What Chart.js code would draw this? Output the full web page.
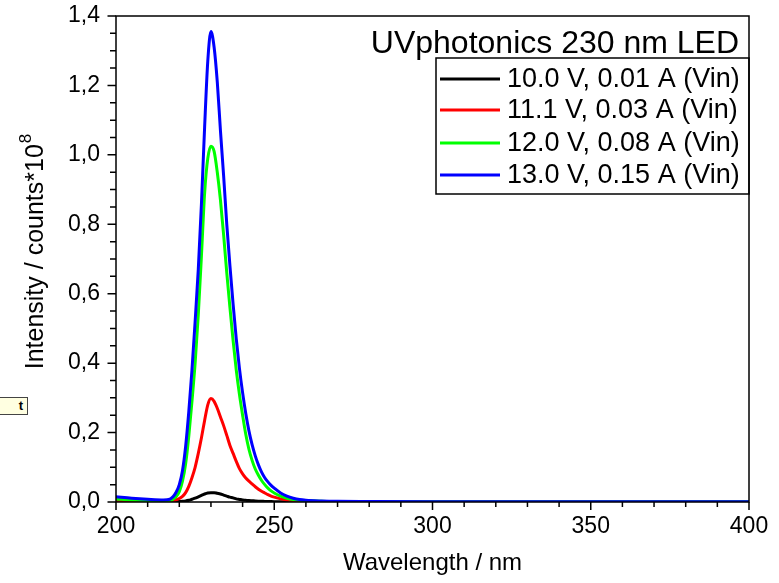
<!DOCTYPE html>
<html>
<head>
<meta charset="utf-8">
<script src="https://cdn.jsdelivr.net/npm/chart.js@4.4.0/dist/chart.umd.min.js"></script>
<style>
  html, body { margin: 0; padding: 0; background: #fff; }
  #wrap { position: relative; width: 779px; height: 583px; overflow: hidden; }
  #note { position: absolute; left: -6px; top: 397px; width: 34px; height: 18px; background: #ffffe1; border: 1px solid #444; font: bold 13px "Liberation Sans", Arial, sans-serif; line-height: 16px; text-align: right; padding-right: 4px; box-sizing: border-box; }
</style>
</head>
<body>
<div id="wrap">
<canvas id="myChart" width="779" height="583"></canvas>
<div id="note">t</div>
</div>
<script>
// wavelength in nm
const wavelengths = [200, 205, 210, 215, 217,
  218, 219, 220, 221, 222, 223, 224, 225, 226, 227, 228, 229, 230, 231, 232, 233, 234,
  235, 236, 237, 238, 239, 240, 241, 242, 243, 244, 245, 246, 247, 248, 249, 250,
  252, 254, 256, 258, 260, 265, 270, 280, 300, 350, 400];

// intensity in counts*10^8
const v10 = [0.001, 0.0008, 0.0005, 0.0005, 0.0006,
  0.0008, 0.001, 0.0015, 0.002, 0.003, 0.005, 0.008, 0.011, 0.015, 0.019, 0.023, 0.026, 0.027, 0.027, 0.025, 0.023, 0.02,
  0.017, 0.014, 0.012, 0.009, 0.0075, 0.006, 0.005, 0.004, 0.0035, 0.003, 0.0025, 0.002, 0.0018, 0.0015, 0.0012, 0.001,
  0.0008, 0.0006, 0.0005, 0.0004, 0.0003, 0.0002, 0.0002, 0.0002, 0.0002, 0.0002, 0.0002];
const v11 = [0.002, 0.0015, 0.001, 0.001, 0.002,
  0.003, 0.006, 0.01, 0.016, 0.027, 0.045, 0.07, 0.10, 0.14, 0.185, 0.235, 0.28, 0.298, 0.29, 0.27, 0.245, 0.22,
  0.192, 0.163, 0.14, 0.117, 0.096, 0.081, 0.069, 0.06, 0.052, 0.044, 0.037, 0.031, 0.026, 0.021, 0.017, 0.014,
  0.009, 0.006, 0.004, 0.003, 0.002, 0.001, 0.0008, 0.0005, 0.0003, 0.0003, 0.0003];
const v12 = [0.009, 0.006, 0.004, 0.003, 0.004,
  0.008, 0.016, 0.03, 0.06, 0.11, 0.19, 0.29, 0.40, 0.54, 0.71, 0.89, 0.99, 1.025, 1.01, 0.95, 0.87, 0.77,
  0.66, 0.56, 0.465, 0.38, 0.31, 0.25, 0.195, 0.152, 0.12, 0.095, 0.077, 0.062, 0.05, 0.04, 0.032, 0.026,
  0.017, 0.011, 0.007, 0.005, 0.004, 0.002, 0.001, 0.001, 0.0005, 0.0005, 0.0005];
const v13 = [0.015, 0.011, 0.008, 0.006, 0.008,
  0.015, 0.028, 0.05, 0.09, 0.16, 0.26, 0.38, 0.52, 0.67, 0.86, 1.08, 1.27, 1.355, 1.31, 1.21, 1.07, 0.94,
  0.80, 0.68, 0.57, 0.47, 0.385, 0.315, 0.255, 0.205, 0.165, 0.133, 0.107, 0.086, 0.07, 0.058, 0.048, 0.04,
  0.026, 0.017, 0.011, 0.007, 0.005, 0.003, 0.002, 0.0015, 0.001, 0.001, 0.001];

const seriesLabels = ['10.0 V, 0.01 A (Vin)', '11.1 V, 0.03 A (Vin)', '12.0 V, 0.08 A (Vin)', '13.0 V, 0.15 A (Vin)'];
const seriesColors = ['#000000', '#ff0000', '#00ff00', '#0000ff'];
const legendTitle = 'UVphotonics 230 nm LED';
const xTicks = [200, 250, 300, 350, 400];
const yTicks = [0, 0.2, 0.4, 0.6, 0.8, 1.0, 1.2, 1.4];

const FONT = '"Liberation Sans", Arial, sans-serif';

const series = [v10, v11, v12, v13];

// frame, ticks, y title with superscript and the Origin style legend
const extras = {
    id: 'extras',
    afterDraw(chart) {
        const {ctx, chartArea: a, scales: {x, y}} = chart;
        ctx.save();
        ctx.strokeStyle = '#000';
        ctx.lineWidth = 1.5;
        ctx.strokeRect(a.left, a.top, a.right - a.left, a.bottom - a.top);

        ctx.beginPath();
        for (let w = 200; w <= 400; w += 10) {
            const px = x.getPixelForValue(w);
            const len = w % 50 === 0 ? 8 : 5;
            ctx.moveTo(px, a.bottom);
            ctx.lineTo(px, a.bottom + len);
        }
        for (let i = 0; i <= 28; i++) {
            const py = y.getPixelForValue(i * 0.05);
            const len = i % 4 === 0 ? 8.5 : 6;
            ctx.moveTo(a.left, py);
            ctx.lineTo(a.left - len, py);
        }
        ctx.stroke();

        // y axis title
        ctx.save();
        ctx.translate(36, 252);
        ctx.rotate(-Math.PI / 2);
        ctx.fillStyle = '#000';
        ctx.textBaseline = 'middle';
        ctx.textAlign = 'left';
        const main = 'Intensity / counts*10';
        ctx.font = '25px ' + FONT;
        const wMain = ctx.measureText(main).width;
        ctx.font = '17px ' + FONT;
        const wSup = ctx.measureText('8').width;
        const start = -(wMain + wSup) / 2;
        ctx.font = '25px ' + FONT;
        ctx.fillText(main, start, 0);
        ctx.font = '17px ' + FONT;
        ctx.fillText('8', start + wMain + 1, -10);
        ctx.restore();

        // legend
        ctx.fillStyle = '#000';
        ctx.font = '32px ' + FONT;
        ctx.textAlign = 'right';
        ctx.textBaseline = 'alphabetic';
        ctx.fillText(legendTitle, 739, 53);

        ctx.lineWidth = 1.5;
        ctx.strokeRect(436, 58, a.right - 436, 136);
        ctx.font = '27px ' + FONT;
        ctx.textAlign = 'left';
        ctx.textBaseline = 'middle';
        const rows = [79, 110, 143, 175];
        seriesLabels.forEach((lab, i) => {
            ctx.strokeStyle = seriesColors[i];
            ctx.lineWidth = 3;
            ctx.beginPath();
            ctx.moveTo(440, rows[i]);
            ctx.lineTo(500, rows[i]);
            ctx.stroke();
            ctx.fillText(lab, 507, rows[i] + 1);
        });
        ctx.restore();
    }
};

const ctx = document.getElementById('myChart').getContext('2d');
const myChart = new Chart(ctx, {
    type: 'line',
    data: {
        datasets: series.map((vals, i) => ({
            label: seriesLabels[i],
            data: wavelengths.map((w, j) => ({x: w, y: vals[j]})),
            borderColor: seriesColors[i],
            borderWidth: 3,
            pointRadius: 0,
            cubicInterpolationMode: 'monotone',
            order: 3 - i
        }))
    },
    options: {
        responsive: false,
        animation: false,
        layout: {
            padding: {top: 16, right: 30, left: 0, bottom: 0}
        },
        scales: {
            x: {
                type: 'linear',
                min: 200,
                max: 400,
                afterBuildTicks: s => { s.ticks = xTicks.map(v => ({value: v})); },
                afterFit: s => { s.height = 81; s.paddingLeft = 0; s.paddingRight = 0; },
                grid: {display: false, drawTicks: false},
                border: {display: false},
                ticks: {
                    color: '#000',
                    padding: 11,
                    maxRotation: 0,
                    font: {family: FONT, size: 23}
                },
                title: {
                    display: true,
                    text: 'Wavelength / nm',
                    color: '#000',
                    font: {family: FONT, size: 24},
                    padding: {top: 0, bottom: 5}
                }
            },
            y: {
                min: 0,
                max: 1.4,
                afterBuildTicks: s => { s.ticks = yTicks.map(v => ({value: v})); },
                afterFit: s => { s.width = 116; s.paddingTop = 0; s.paddingBottom = 0; },
                grid: {display: false, drawTicks: false},
                border: {display: false},
                ticks: {
                    color: '#000',
                    padding: 16,
                    font: {family: FONT, size: 23},
                    callback: v => v.toFixed(1).replace('.', ',')
                }
            }
        },
        plugins: {
            legend: {display: false},
            tooltip: {enabled: false}
        }
    },
    plugins: [extras]
});
</script>
</body>
</html>
